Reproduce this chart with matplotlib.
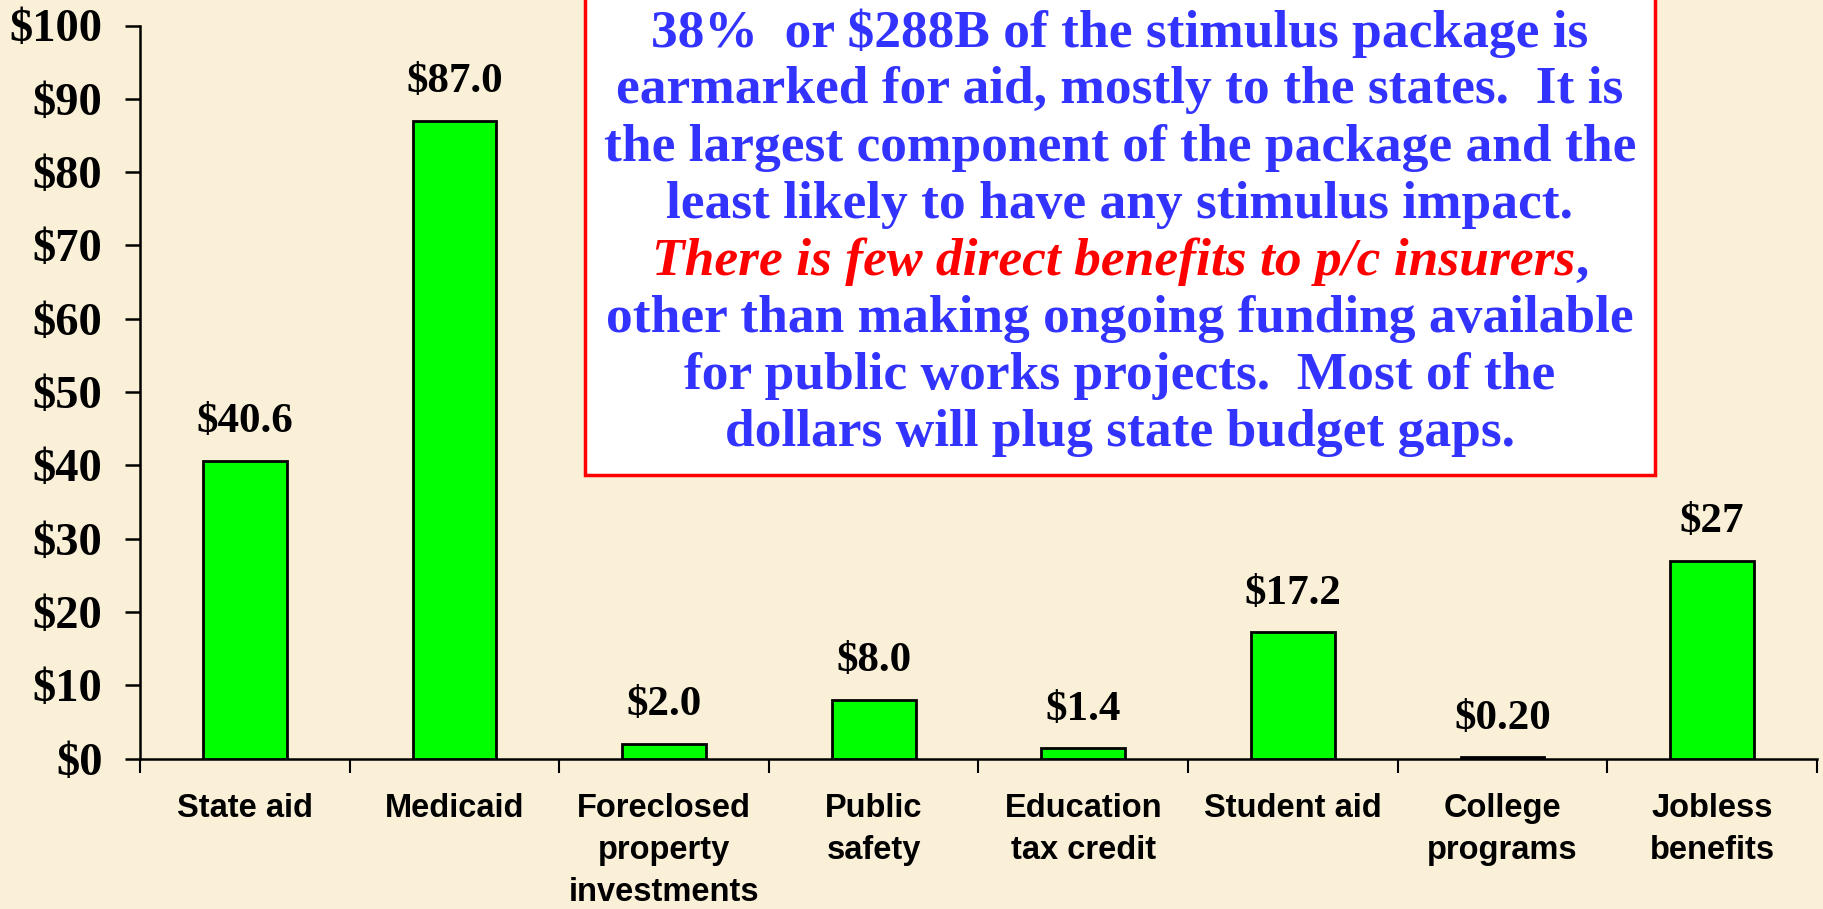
import matplotlib.pyplot as plt
from matplotlib.patches import Rectangle

categories = ['State aid', 'Medicaid', 'Foreclosed\nproperty\ninvestments', 'Public\nsafety',
              'Education\ntax credit', 'Student aid', 'College\nprograms', 'Jobless\nbenefits']
values = [40.6, 87.0, 2.0, 8.0, 1.4, 17.2, 0.20, 27]
bar_labels = ['$40.6', '$87.0', '$2.0', '$8.0', '$1.4', '$17.2', '$0.20', '$27']
y_ticks = list(range(0, 101, 10))

box_lines = [
    '38%  or $288B of the stimulus package is',
    'earmarked for aid, mostly to the states.  It is',
    'the largest component of the package and the',
    'least likely to have any stimulus impact.',
    None,
    'other than making ongoing funding available',
    'for public works projects.  Most of the',
    'dollars will plug state budget gaps.',
]
red_part = 'There is few direct benefits to p/c insurers'

BG = '#faefd7'
BLUE = '#3333ff'
SERIF = 'Liberation Serif'
SANS = 'Liberation Sans'

fig = plt.figure(figsize=(18.24, 9.09), dpi=100, facecolor=BG)
ax = fig.add_axes([140 / 1824, 1 - 758.5 / 909, 1677 / 1824, 733 / 909])
ax.set_facecolor(BG)

x = list(range(len(categories)))
ax.bar(x, values, width=0.4, color='#00ff00', edgecolor='black', linewidth=2, zorder=3)
for xi, v, lab in zip(x, values, bar_labels):
    ax.annotate(lab, (xi, v), xytext=(0, 14), textcoords='offset points',
                ha='center', va='bottom', fontsize=31, fontweight='bold', family=SERIF)

ax.set_xlim(-0.5, len(categories) - 0.5)
ax.set_ylim(0, 100)
ax.set_yticks(y_ticks)
ax.set_yticklabels([f'${t}' for t in y_ticks], fontsize=33.5, fontweight='bold', family=SERIF)
ax.tick_params(axis='y', length=11, width=1.8, pad=16)

ax.set_xticks([i - 0.5 for i in range(len(categories) + 1)])
ax.set_xticklabels([])
ax.tick_params(axis='x', which='major', length=10, width=1.5, direction='out')
ax.set_xticks(x, minor=True)
ax.set_xticklabels(categories, minor=True, fontsize=23.5, fontweight='bold', family=SANS,
                   linespacing=1.45, va='top')
ax.tick_params(axis='x', which='minor', length=0, pad=25)

for s in ['top', 'right']:
    ax.spines[s].set_visible(False)
for s in ['left', 'bottom']:
    ax.spines[s].set_linewidth(1.8)

# callout box
fig.patches.append(Rectangle((585 / 1824, 1 - 475 / 909), 1070 / 1824, 0.6,
                             transform=fig.transFigure, facecolor='white',
                             edgecolor='red', linewidth=2.5, zorder=5))
cx = 1120 / 1824
line_y = [33, 90, 148, 205, 262, 319, 376, 433]
box_fs = 38.5
for ly, txt in zip(line_y, box_lines):
    yy = 1 - ly / 909
    if txt is not None:
        fig.text(cx, yy, txt, ha='center', va='center', fontsize=box_fs, fontweight='bold',
                 family=SERIF, color=BLUE, zorder=6)
    else:
        # red italic phrase followed by a blue comma, centred together
        r = fig.canvas.get_renderer()
        t1 = fig.text(0, yy, red_part, ha='left', va='center', fontsize=box_fs,
                      fontweight='bold', style='italic', family=SERIF, color='red', zorder=6)
        t2 = fig.text(0, yy, ',', ha='left', va='center', fontsize=box_fs,
                      fontweight='bold', family=SERIF, color=BLUE, zorder=6)
        w1 = t1.get_window_extent(r).width / fig.bbox.width
        w2 = t2.get_window_extent(r).width / fig.bbox.width
        x0 = cx - (w1 + w2) / 2
        t1.set_x(x0)
        t2.set_x(x0 + w1)

fig.savefig('out.png', dpi=100, facecolor=BG)
